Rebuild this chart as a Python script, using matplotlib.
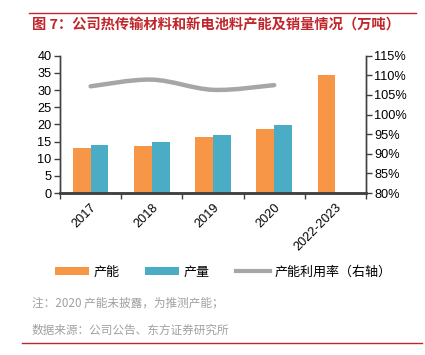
import numpy as np
import matplotlib
matplotlib.use("Agg")
import matplotlib.pyplot as plt
from matplotlib.patches import Patch, PathPatch
from matplotlib.lines import Line2D
from matplotlib.path import Path

categories = ["2017", "2018", "2019", "2020", "2022-2023"]
capacity = [13.2, 13.7, 16.2, 18.7, 34.3]          # 产能 (万吨)
output = [13.9, 14.8, 17.0, 19.9, np.nan]           # 产量 (万吨)
utilization = [107.2, 108.9, 106.3, 107.5]          # 产能利用率 (%)

title = "图 7：公司热传输材料和新电池料产能及销量情况（万吨）"
note1 = "注：2020 产能未披露，为推测产能；"
note2 = "数据来源：公司公告、东方证券研究所"

C_ORANGE = "#F79646"
C_BLUE = "#4BACC6"
C_GRAY = "#A6A6A6"
C_RED = "#C0272D"
C_AXIS = "#404040"
CJK = ["Noto Sans CJK SC", "DejaVu Sans"]
NUM = ["Liberation Sans", "DejaVu Sans"]

fig = plt.figure(figsize=(4.25, 3.55), dpi=100)
ax = fig.add_axes([60/425, 1-193/355, (366-60)/425, (193-55.7)/355])
ax2 = ax.twinx()

x = np.arange(len(categories))
w = 0.29
ax.bar(x - w/2, capacity, w, color=C_ORANGE, zorder=2)
ax.bar(x + w/2, np.nan_to_num(output, nan=0.0), w, color=C_BLUE, zorder=2)
ax.set_xlim(-0.5, len(categories) - 0.5)
ax.set_ylim(0, 40)
ax.set_yticks(np.arange(0, 41, 5))

# smoothed utilisation line (Catmull-Rom -> cubic Bezier)
ux = x[:len(utilization)].astype(float)
uy = np.array(utilization, dtype=float)
pts = np.column_stack([ux, uy])
verts = [tuple(pts[0])]
codes = [Path.MOVETO]
n = len(pts)
for i in range(n - 1):
    p0 = pts[i - 1] if i > 0 else pts[i]
    p1 = pts[i]
    p2 = pts[i + 1]
    p3 = pts[i + 2] if i + 2 < n else pts[i + 1]
    c1 = p1 + (p2 - p0) / 6.0
    c2 = p2 - (p3 - p1) / 6.0
    verts += [tuple(c1), tuple(c2), tuple(p2)]
    codes += [Path.CURVE4] * 3
ax2.add_patch(PathPatch(Path(verts, codes), facecolor="none", edgecolor=C_GRAY,
                        lw=3.2, capstyle="round", zorder=3))
ax2.set_ylim(80, 115)
ax2.set_yticks(np.arange(80, 116, 5))
ax2.set_yticklabels([f"{v}%" for v in range(80, 116, 5)])

# x ticks: boundaries as major ticks, labels at centres
ax.set_xticks(np.arange(-0.5, len(categories), 1.0))
ax.set_xticklabels([])
ax.set_xticks(x, minor=True)
ax.set_xticklabels(categories, minor=True, rotation=45, ha="right",
                   rotation_mode="anchor", family=NUM, fontsize=9.2)
ax.tick_params(axis="x", which="minor", length=0, pad=6)
ax.tick_params(axis="x", which="major", length=4, width=1, color=C_AXIS, direction="out")
ax.tick_params(axis="y", length=4, width=1, color=C_AXIS, labelsize=9.2, pad=2)
ax2.tick_params(axis="y", length=4, width=1, color=C_AXIS, labelsize=9.2, pad=2)
for lab in ax.get_yticklabels() + ax2.get_yticklabels():
    lab.set_family(NUM)

for a in (ax, ax2):
    a.spines["top"].set_visible(False)
    for s in ("left", "right", "bottom"):
        a.spines[s].set_color(C_AXIS)
    a.spines["left"].set_linewidth(1)
    a.spines["right"].set_linewidth(1)
ax.spines["bottom"].set_linewidth(1.8)
ax2.spines["bottom"].set_linewidth(1.8)

# legend
handles = [Patch(facecolor=C_ORANGE, edgecolor="none"),
           Patch(facecolor=C_BLUE, edgecolor="none"),
           Line2D([0], [0], color=C_GRAY, lw=3)]
labels = ["产能", "产量", "产能利用率（右轴）"]
fig.legend(handles, labels, loc="center", bbox_to_anchor=(0.525, 1 - 272/355),
           ncol=3, frameon=False, prop={"family": CJK, "size": 9.4},
           handlelength=2.6, handleheight=0.6, handletextpad=0.35,
           columnspacing=2.0)

# title, notes and rules
fig.text(32/425, 1 - 25/355, title, color=C_RED, fontsize=10.3, fontweight="bold",
         family=CJK, va="center", ha="left")
fig.text(32/425, 1 - 303/355, note1, color="#A0A0A0", fontsize=8.4,
         family=CJK, va="center", ha="left")
fig.text(32/425, 1 - 330/355, note2, color="#A0A0A0", fontsize=8.4,
         family=CJK, va="center", ha="left")
fig.add_artist(Line2D([29/425, 416/425], [1 - 13/355, 1 - 13/355],
                      color=C_RED, lw=1, transform=fig.transFigure))
fig.add_artist(Line2D([22/425, 422/425], [1 - 343/355, 1 - 343/355],
                      color=C_RED, lw=1, transform=fig.transFigure))

fig.savefig("out.png", dpi=100)
